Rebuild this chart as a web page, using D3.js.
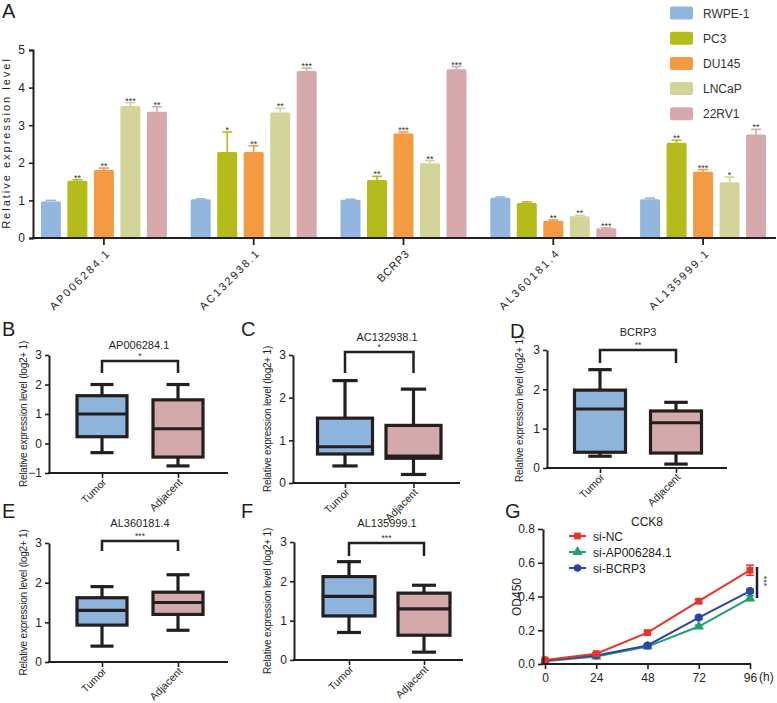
<!DOCTYPE html>
<html><head><meta charset="utf-8">
<script src="https://cdn.jsdelivr.net/npm/d3@7"></script>
<style>
body{margin:0;background:#fff}
svg{display:block;font-family:"Liberation Sans",Arial,sans-serif}
</style></head>
<body><svg id="c" width="777" height="703"></svg>
<script>
// ---------- Panel A data ----------
const genes = ["AP006284.1","AC132938.1","BCRP3","AL360181.4","AL135999.1"];
const cellLines = ["RWPE-1","PC3","DU145","LNCaP","22RV1"];
const valRWPE  = [0.97, 1.03, 1.02, 1.07, 1.03];
const valPC3   = [1.52, 2.29, 1.54, 0.93, 2.53];
const valDU145 = [1.81, 2.29, 2.78, 0.46, 1.76];
const valLNCaP = [3.51, 3.34, 1.99, 0.58, 1.48];
const val22RV1 = [3.36, 4.44, 4.49, 0.26, 2.75];
const errRWPE  = [0.03, 0.01, 0.01, 0.02, 0.03];
const errPC3   = [0.03, 0.53, 0.10, 0.03, 0.07];
const errDU145 = [0.05, 0.16, 0.04, 0.02, 0.06];
const errLNCaP = [0.09, 0.11, 0.07, 0.02, 0.14];
const err22RV1 = [0.13, 0.08, 0.07, 0.01, 0.14];
const sigRWPE  = ["","","","",""];
const sigPC3   = ["**","*","**","","**"];
const sigDU145 = ["**","**","***","**","***"];
const sigLNCaP = ["***","**","**","**","*"];
const sig22RV1 = ["**","***","***","***","**"];
const yTicksA = [0,1,2,3,4,5];

// ---------- Box plot data (B-F) ----------
const boxGenes = ["AP006284.1","AC132938.1","BCRP3","AL360181.4","AL135999.1"];
const boxGroups = ["Tumor","Adjacent"];
// [min, q1, median, q3, max]
const tumorStats = [
  [-0.31, 0.23, 1.00, 1.62, 2.00],
  [0.40, 0.68, 0.85, 1.52, 2.40],
  [0.30, 0.40, 1.50, 1.98, 2.50],
  [0.40, 0.93, 1.30, 1.62, 1.90],
  [0.70, 1.12, 1.62, 2.12, 2.50]
];
const adjacentStats = [
  [-0.76, -0.46, 0.50, 1.48, 2.00],
  [0.20, 0.58, 0.63, 1.35, 2.20],
  [0.10, 0.38, 1.15, 1.45, 1.67],
  [0.80, 1.20, 1.50, 1.76, 2.20],
  [0.20, 0.63, 1.30, 1.70, 1.90]
];
const boxSig = ["*","*","**","***","***"];
const boxYMin = [-1,0,0,0,0];
const boxYMax = [3,3,3,3,3];

// ---------- Panel G data ----------
const hours = [0,24,48,72,96];
const seriesG = ["si-NC","si-AP006284.1","si-BCRP3"];
const odNC    = [0.024, 0.061, 0.186, 0.372, 0.556];
const odAP    = [0.016, 0.044, 0.103, 0.222, 0.390];
const odBCRP3 = [0.020, 0.050, 0.110, 0.275, 0.432];
const errNC    = [0.004, 0.006, 0.008, 0.010, 0.030];
const errAP    = [0.003, 0.004, 0.006, 0.008, 0.015];
const errBCRP3 = [0.003, 0.004, 0.006, 0.008, 0.010];
const yTicksG = [0,0.2,0.4,0.6,0.8];

// ================= drawing =================
const svg = d3.select("#c");
const INK = "#231f20";
const FONT = '"Liberation Sans",Arial,sans-serif';
const colorsA = ["#92b6de","#b4bb1b","#f49a43","#d3d49a","#d6a9ad"];

function letter(t,x,y){
  svg.append("text").attr("x",x).attr("y",y).attr("font-size",20).attr("fill",INK)
    .attr("font-weight",300).text(t);
}

// ---------- Panel A ----------
{
  const gA = svg.append("g");
  const y = d3.scaleLinear().domain([0,5]).range([238,50]);
  const x = d3.scaleBand().domain(genes).range([29,778]);
  const xi = d3.scaleBand().domain(cellLines).range([-63,63]).paddingInner(0.245);
  const vals = [valRWPE,valPC3,valDU145,valLNCaP,val22RV1];
  const errs = [errRWPE,errPC3,errDU145,errLNCaP,err22RV1];
  const sigs = [sigRWPE,sigPC3,sigDU145,sigLNCaP,sig22RV1];
  const rows = [];
  genes.forEach((g,gi)=>cellLines.forEach((c,ci)=>rows.push({g,c,ci,v:vals[ci][gi],e:errs[ci][gi],s:sigs[ci][gi]})));
  const bx = d=> x(d.g)+x.bandwidth()/2 + xi(d.c);
  gA.selectAll("rect.bar").data(rows).join("rect").attr("class","bar")
    .attr("x",bx).attr("width",xi.bandwidth())
    .attr("y",d=>y(d.v)).attr("height",d=>y(0)-y(d.v))
    .attr("fill",d=>colorsA[d.ci]).attr("rx",1.5);
  const eg = gA.selectAll("g.err").data(rows).join("g").attr("stroke",d=>colorsA[d.ci]).attr("stroke-width",1.6);
  eg.append("line").attr("x1",d=>bx(d)+xi.bandwidth()/2).attr("x2",d=>bx(d)+xi.bandwidth()/2)
    .attr("y1",d=>y(d.v)).attr("y2",d=>y(d.v+d.e));
  eg.append("line").attr("x1",d=>bx(d)+xi.bandwidth()/2-5).attr("x2",d=>bx(d)+xi.bandwidth()/2+5)
    .attr("y1",d=>y(d.v+d.e)).attr("y2",d=>y(d.v+d.e));
  gA.selectAll("text.sig").data(rows.filter(d=>d.s)).join("text").attr("class","sig")
    .attr("x",d=>bx(d)+xi.bandwidth()/2).attr("y",d=>y(d.v+d.e)+1)
    .attr("text-anchor","middle").attr("font-size",9).attr("fill","#333").text(d=>d.s);
  const ya = gA.append("g").attr("transform","translate(33,0)")
    .call(d3.axisLeft(y).tickValues(yTicksA).tickFormat(d3.format("d")).tickSize(4).tickPadding(4));
  ya.select(".domain").attr("stroke",INK).attr("stroke-width",2);
  ya.selectAll(".tick line").attr("stroke",INK).attr("stroke-width",1.6);
  ya.selectAll("text").attr("font-size",12).attr("fill",INK).attr("font-family",FONT);
  const xa = gA.append("g").attr("transform",`translate(0,${y(0)})`)
    .call(d3.axisBottom(x).tickSize(7).tickSizeOuter(0).tickFormat(""));
  xa.select(".domain").remove();
  xa.selectAll(".tick line").attr("stroke",INK).attr("stroke-width",1.8);
  gA.append("line").attr("x1",32).attr("x2",776).attr("y1",y(0)).attr("y2",y(0)).attr("stroke",INK).attr("stroke-width",2);
  // rotated gene labels (45 deg), spaced letters
  gA.selectAll("text.xl").data(genes).join("text").attr("class","xl")
    .attr("transform",d=>`translate(${x(d)+x.bandwidth()/2+6},${y(0)+17}) rotate(-45)`)
    .attr("text-anchor","end").attr("font-size",11).attr("fill",INK)
    .attr("textLength",d=>d.length*7.9).attr("lengthAdjust","spacing").text(d=>d);
  gA.append("text").attr("transform","translate(10,143) rotate(-90)").attr("text-anchor","middle")
    .attr("font-size",11).attr("letter-spacing",2).attr("fill",INK).text("Relative expression level");
  const lg = gA.append("g");
  cellLines.forEach((c,i)=>{
    const yy = 13 + i*25.2;
    lg.append("rect").attr("x",670).attr("y",yy-6.5).attr("width",23).attr("height",13).attr("rx",2)
      .attr("fill",colorsA[i]);
    lg.append("text").attr("x",703).attr("y",yy+4.5).attr("font-size",12).attr("fill","#333").text(c);
  });
  letter("A",2,18);
}

// ---------- Box plots ----------
const boxLayout = [
 {L:"B", lx:2,   ly:336, x0:49,  x1:228, yT:355, yB:473, c:[102,178],   bw:50, tx:139, ty:345, by:361, bl:373, labX:23},
 {L:"C", lx:241, ly:336, x0:293, x1:460, yT:355, yB:483, c:[345,413.5], bw:55, tx:387, ty:337, by:352, bl:373, labX:267},
 {L:"D", lx:510, ly:338, x0:547, x1:727, yT:350, yB:468, c:[600,676],   bw:51, tx:638, ty:332, by:350, bl:363, labX:519},
 {L:"E", lx:2,   ly:518, x0:49,  x1:228, yT:543, yB:662, c:[102,178],   bw:50, tx:140, ty:523, by:541, bl:551, labX:23},
 {L:"F", lx:241, ly:518, x0:294, x1:463, yT:542, yB:660, c:[349,424],   bw:52, tx:387, ty:523, by:543, bl:556, labX:267}
];
const boxFill = ["#8fb4dc","#d4a9ab"];
boxLayout.forEach((P,i)=>{
  const g = svg.append("g");
  const y = d3.scaleLinear().domain([boxYMin[i],boxYMax[i]]).range([P.yB,P.yT]);
  const x = d3.scalePoint().domain(boxGroups).range(P.c);
  const data = [tumorStats[i],adjacentStats[i]].map((s,k)=>({grp:boxGroups[k],k,min:s[0],q1:s[1],med:s[2],q3:s[3],max:s[4]}));
  const cap = P.bw*0.46;
  const bg = g.selectAll("g.box").data(data).join("g").attr("stroke",INK).attr("stroke-width",3.2);
  bg.append("line").attr("x1",d=>x(d.grp)).attr("x2",d=>x(d.grp)).attr("y1",d=>y(d.max)).attr("y2",d=>y(d.min));
  bg.append("line").attr("x1",d=>x(d.grp)-cap/2).attr("x2",d=>x(d.grp)+cap/2).attr("y1",d=>y(d.max)).attr("y2",d=>y(d.max));
  bg.append("line").attr("x1",d=>x(d.grp)-cap/2).attr("x2",d=>x(d.grp)+cap/2).attr("y1",d=>y(d.min)).attr("y2",d=>y(d.min));
  bg.append("rect").attr("x",d=>x(d.grp)-P.bw/2).attr("width",P.bw).attr("y",d=>y(d.q3)).attr("height",d=>y(d.q1)-y(d.q3))
    .attr("fill",d=>boxFill[d.k]);
  bg.append("line").attr("x1",d=>x(d.grp)-P.bw/2).attr("x2",d=>x(d.grp)+P.bw/2).attr("y1",d=>y(d.med)).attr("y2",d=>y(d.med));
  const ya = g.append("g").attr("transform",`translate(${P.x0},0)`)
    .call(d3.axisLeft(y).ticks(boxYMax[i]-boxYMin[i]).tickFormat(d3.format("d")).tickSize(4).tickPadding(3).tickSizeOuter(0));
  ya.select(".domain").attr("stroke",INK).attr("stroke-width",2);
  ya.selectAll(".tick line").attr("stroke",INK).attr("stroke-width",1.6);
  ya.selectAll("text").attr("font-size",12).attr("fill",INK).attr("font-family",FONT);
  const xa = g.append("g").attr("transform",`translate(0,${P.yB})`)
    .call(d3.axisBottom(x).tickSize(5).tickFormat(""));
  xa.select(".domain").remove();
  xa.selectAll(".tick line").attr("stroke",INK).attr("stroke-width",1.6);
  g.append("line").attr("x1",P.x0-1).attr("x2",P.x1).attr("y1",P.yB).attr("y2",P.yB).attr("stroke",INK).attr("stroke-width",2);
  g.selectAll("text.xl").data(boxGroups).join("text").attr("class","xl")
    .attr("transform",d=>`translate(${x(d)+5},${P.yB+10}) rotate(-45)`)
    .attr("text-anchor","end").attr("font-size",10.5).attr("fill",INK).text(d=>d);
  g.append("text").attr("x",P.tx).attr("y",P.ty+4).attr("text-anchor","middle").attr("font-size",11).attr("fill",INK).text(boxGenes[i]);
  g.append("text").attr("transform",`translate(${P.labX+3.5},${(P.yT+P.yB)/2}) rotate(-90)`).attr("text-anchor","middle")
    .attr("font-size",10).attr("letter-spacing",-0.2).attr("fill",INK).text("Relative expression level (log2+ 1)");
  g.append("path").attr("d",`M${x(boxGroups[0])},${P.bl}V${P.by}H${x(boxGroups[1])}V${P.bl}`)
    .attr("fill","none").attr("stroke",INK).attr("stroke-width",2.5);
  g.append("text").attr("x",(P.c[0]+P.c[1])/2).attr("y",P.by-2.5).attr("text-anchor","middle").attr("font-size",8.5).attr("fill","#333").text(boxSig[i]);
  letter(P.L,P.lx,P.ly);
});

// ---------- Panel G ----------
{
  const g = svg.append("g");
  const x = d3.scaleLinear().domain([0,96]).range([545,750]);
  const y = d3.scaleLinear().domain([0,0.8]).range([664,529]);
  const colsG = ["#e8352c","#20a06f","#2b46a8"];
  const vals = [odNC,odAP,odBCRP3], errs=[errNC,errAP,errBCRP3];
  const line = d3.line().x(d=>x(d.h)).y(d=>y(d.v));
  const series = seriesG.map((s,k)=>({s,k,pts:hours.map((h,j)=>({h,v:vals[k][j],e:errs[k][j]}))}));
  [1,2,0].forEach(k=>{
    const S = series[k];
    const sg = g.append("g").attr("stroke",colsG[k]).attr("fill",colsG[k]);
    sg.append("path").attr("d",line(S.pts)).attr("fill","none").attr("stroke-width",2);
    sg.selectAll("line.e").data(S.pts).join("line").attr("x1",d=>x(d.h)).attr("x2",d=>x(d.h)).attr("y1",d=>y(d.v-d.e)).attr("y2",d=>y(d.v+d.e)).attr("stroke-width",1.5);
    sg.selectAll("line.c1").data(S.pts).join("line").attr("x1",d=>x(d.h)-4).attr("x2",d=>x(d.h)+4).attr("y1",d=>y(d.v+d.e)).attr("y2",d=>y(d.v+d.e)).attr("stroke-width",1.5);
    sg.selectAll("line.c2").data(S.pts).join("line").attr("x1",d=>x(d.h)-4).attr("x2",d=>x(d.h)+4).attr("y1",d=>y(d.v-d.e)).attr("y2",d=>y(d.v-d.e)).attr("stroke-width",1.5);
    const sym = [d3.symbolSquare,d3.symbolTriangle,d3.symbolCircle][k];
    const size = [48,46,50][k];
    sg.selectAll("path.m").data(S.pts).join("path").attr("stroke","none")
      .attr("transform",d=>`translate(${x(d.h)},${y(d.v)})`).attr("d",d3.symbol().type(sym).size(size)());
  });
  const ya = g.append("g").attr("transform","translate(543,0)")
    .call(d3.axisLeft(y).tickValues(yTicksG).tickFormat(d3.format(".1f")).tickSize(5).tickPadding(3).tickSizeOuter(0));
  ya.select(".domain").attr("stroke",INK).attr("stroke-width",2);
  ya.selectAll(".tick line").attr("stroke",INK).attr("stroke-width",1.6);
  ya.selectAll("text").attr("font-size",12).attr("fill",INK).attr("font-family",FONT);
  const xa = g.append("g").attr("transform","translate(0,664)")
    .call(d3.axisBottom(x).tickValues(hours).tickFormat(d3.format("d")).tickSize(5).tickPadding(4));
  xa.select(".domain").remove();
  xa.selectAll(".tick line").attr("stroke",INK).attr("stroke-width",1.6);
  xa.selectAll("text").attr("font-size",12).attr("fill",INK).attr("font-family",FONT);
  g.append("line").attr("x1",542).attr("x2",751).attr("y1",664).attr("y2",664).attr("stroke",INK).attr("stroke-width",2);
  g.append("text").attr("x",759).attr("y",681).attr("font-size",12).attr("fill",INK).text("(h)");
  g.append("text").attr("x",647).attr("y",526).attr("text-anchor","middle").attr("font-size",12).attr("fill",INK).text("CCK8");
  g.append("text").attr("transform","translate(521,597) rotate(-90)").attr("text-anchor","middle").attr("font-size",12).attr("fill",INK).text("OD450");
  seriesG.forEach((s,k)=>{
    const yy = [536,552,568][k];
    g.append("line").attr("x1",569).attr("x2",586).attr("y1",yy).attr("y2",yy).attr("stroke",colsG[k]).attr("stroke-width",2);
    const sym = [d3.symbolSquare,d3.symbolTriangle,d3.symbolCircle][k];
    g.append("path").attr("transform",`translate(577.5,${yy})`).attr("d",d3.symbol().type(sym).size(46)()).attr("fill",colsG[k]);
    g.append("text").attr("x",593).attr("y",yy+4.5).attr("font-size",12).attr("fill",INK).text(s);
  });
  g.append("line").attr("x1",757).attr("x2",757).attr("y1",567).attr("y2",598).attr("stroke",INK).attr("stroke-width",2.5);
  g.append("text").attr("transform","translate(761,581) rotate(90)").attr("text-anchor","middle").attr("font-size",9).attr("fill","#333").text("***");
  letter("G",505,518);
}
</script></body></html>
